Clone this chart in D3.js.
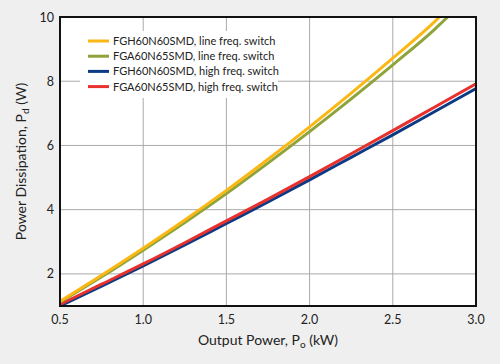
<!DOCTYPE html>
<html>
<head>
<meta charset="utf-8">
<script src="https://cdn.jsdelivr.net/npm/d3@7"></script>
<style>
  body { margin: 0; background: #efefef; }
  text { font-family: Lato, "Open Sans", sans-serif; fill: #222; }
</style>
</head>
<body>
<div id="chart"></div>
<script>
const width = 500
const height = 364

// values
const outputPower = [0.5, 0.75, 1.0, 1.25, 1.5, 1.75, 2.0, 2.25, 2.5, 2.75, 3.0]
const fghLine = [1.15, 1.96, 2.80, 3.68, 4.60, 5.57, 6.58, 7.63, 8.72, 9.85, null]
const fgaLine = [1.12, 1.91, 2.74, 3.60, 4.50, 5.45, 6.43, 7.45, 8.51, 9.61, null]
const fghHigh = [1.00, 1.62, 2.25, 2.90, 3.57, 4.24, 4.93, 5.63, 6.33, 7.05, 7.77]
const fgaHigh = [1.05, 1.68, 2.31, 2.97, 3.65, 4.33, 5.03, 5.74, 6.46, 7.19, 7.92]
// where the line-freq curves leave the top of the plot
const fghLineEnd = [2.78, 10]
const fgaLineEnd = [2.83, 10]

const seriesNames = ["FGH60N60SMD, line freq. switch", "FGA60N65SMD, line freq. switch",
  "FGH60N60SMD, high freq. switch", "FGA60N65SMD, high freq. switch"]
const seriesColors = ["#fbb714", "#8ea43a", "#0c3b85", "#e8302c"]

const xTicks = [0.5, 1.0, 1.5, 2.0, 2.5, 3.0]
const yTicks = [2, 4, 6, 8, 10]

const margin = {top: 17, right: 24, bottom: 58, left: 60}

const svg = d3.select("#chart")
  .append("svg")
  .attr("width", width)
  .attr("height", height)

const x = d3.scaleLinear().domain([0.5, 3.0]).range([margin.left, width - margin.right])
const y = d3.scaleLinear().domain([1, 10]).range([height - margin.bottom, margin.top])

svg.append("rect")
  .attr("x", x(0.5))
  .attr("y", y(10))
  .attr("width", x(3) - x(0.5))
  .attr("height", y(1) - y(10))
  .attr("fill", "white")

// grid
svg.append("g")
  .selectAll("line")
  .data(xTicks.slice(1, -1))
  .join("line")
  .attr("x1", d => x(d)).attr("x2", d => x(d))
  .attr("y1", y(1)).attr("y2", y(10))
  .attr("stroke", "#aaa")
  .attr("stroke-width", 1)

svg.append("g")
  .selectAll("line")
  .data(yTicks.slice(0, -1))
  .join("line")
  .attr("x1", x(0.5)).attr("x2", x(3))
  .attr("y1", d => y(d)).attr("y2", d => y(d))
  .attr("stroke", "#aaa")
  .attr("stroke-width", 1)

// tick labels
svg.append("g")
  .selectAll("text")
  .data(xTicks)
  .join("text")
  .attr("x", d => x(d))
  .attr("y", 324)
  .attr("text-anchor", "middle")
  .attr("font-size", 12.5)
  .text(d => d.toFixed(1))

svg.append("g")
  .selectAll("text")
  .data(yTicks)
  .join("text")
  .attr("x", 54)
  .attr("y", d => y(d) + 4.5)
  .attr("text-anchor", "end")
  .attr("font-size", 12.5)
  .text(d => d)

// curves
const lineGen = d3.line()
  .x(d => x(d[0]))
  .y(d => y(d[1]))
  .curve(d3.curveMonotoneX)

const seriesData = [
  outputPower.map((p, i) => [p, fghLine[i]]).filter(d => d[1] != null).concat([fghLineEnd]),
  outputPower.map((p, i) => [p, fgaLine[i]]).filter(d => d[1] != null).concat([fgaLineEnd]),
  outputPower.map((p, i) => [p, fghHigh[i]]),
  outputPower.map((p, i) => [p, fgaHigh[i]])
]

const drawOrder = [2, 3, 1, 0]
svg.append("defs").append("clipPath")
  .attr("id", "plot-clip")
  .append("rect")
  .attr("x", x(0.5)).attr("y", y(10))
  .attr("width", x(3) - x(0.5)).attr("height", y(1) - y(10))

svg.append("g")
  .attr("clip-path", "url(#plot-clip)")
  .selectAll("path")
  .data(drawOrder)
  .join("path")
  .attr("d", i => lineGen(seriesData[i]))
  .attr("fill", "none")
  .attr("stroke", i => seriesColors[i])
  .attr("stroke-width", 3)

// frame
svg.append("rect")
  .attr("x", x(0.5))
  .attr("y", y(10))
  .attr("width", x(3) - x(0.5))
  .attr("height", y(1) - y(10))
  .attr("fill", "none")
  .attr("stroke", "#111")
  .attr("stroke-width", 2)

// legend
const legend = svg.append("g")
legend.append("rect")
  .attr("x", 80).attr("y", 31)
  .attr("width", 198).attr("height", 67)
  .attr("fill", "white")

seriesNames.forEach((name, i) => {
  const ly = 41 + i * 15.2
  legend.append("line")
    .attr("x1", 88).attr("x2", 109)
    .attr("y1", ly).attr("y2", ly)
    .attr("stroke", seriesColors[i])
    .attr("stroke-width", 3)
  legend.append("text")
    .attr("x", 113)
    .attr("y", ly + 4)
    .attr("font-size", 11)
    .text(name)
})

// axis titles
const xTitle = svg.append("text")
  .attr("x", (x(0.5) + x(3)) / 2)
  .attr("y", 345)
  .attr("text-anchor", "middle")
  .attr("font-size", 14)
xTitle.append("tspan").text("Output Power, P")
xTitle.append("tspan").attr("font-size", 10).attr("dy", 3).text("o")
xTitle.append("tspan").attr("dy", -3).text(" (kW)")

const yTitle = svg.append("text")
  .attr("transform", `translate(26,${(y(1) + y(10)) / 2}) rotate(-90)`)
  .attr("text-anchor", "middle")
  .attr("font-size", 14)
yTitle.append("tspan").text("Power Dissipation, P")
yTitle.append("tspan").attr("font-size", 10).attr("dy", 3).text("d")
yTitle.append("tspan").attr("dy", -3).text(" (W)")
</script>
</body>
</html>
